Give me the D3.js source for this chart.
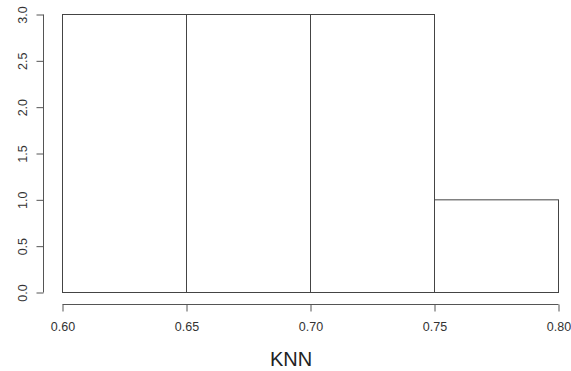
<!DOCTYPE html>
<html>
<head>
<meta charset="utf-8">
<script src="https://cdn.jsdelivr.net/npm/d3@7"></script>
<style>
  body { margin: 0; background: #fff; }
  text { font-family: "Liberation Sans", Arial, sans-serif; }
</style>
</head>
<body>
<div id="chart"></div>
<script>
// Histogram bins and counts
const binEdges = [0.60, 0.65, 0.70, 0.75, 0.80];
const counts = [3, 3, 3, 1];
const xTicks = [0.60, 0.65, 0.70, 0.75, 0.80];
const yTicks = [0, 0.5, 1, 1.5, 2, 2.5, 3];
const xTitle = "KNN";

const width = 571;
const height = 371;

const svg = d3.select("#chart")
  .append("svg")
  .attr("width", width)
  .attr("height", height);

const x = d3.scaleLinear().domain([0.60, 0.80]).range([62.5, 558.5]);
const y = d3.scaleLinear().domain([0, 3]).range([292.5, 14.5]);

// Bars
const bins = counts.map((c, i) => ({ x0: binEdges[i], x1: binEdges[i + 1], count: c }));
svg.selectAll(".bar")
  .data(bins)
  .enter()
  .append("rect")
  .attr("class", "bar")
  .attr("x", d => x(d.x0))
  .attr("y", d => y(d.count))
  .attr("width", d => x(d.x1) - x(d.x0))
  .attr("height", d => y(0) - y(d.count))
  .attr("fill", "none")
  .attr("stroke", "#444")
  .attr("stroke-width", 1);

// Y axis
const yAxis = svg.append("g")
  .attr("transform", "translate(43.5,0)")
  .call(d3.axisLeft(y).tickValues(yTicks).tickSize(7).tickFormat(d3.format(".1f")));
yAxis.select(".domain").attr("stroke", "#555").attr("d", `M0,${y(0)}V${y(3)}`);
yAxis.selectAll(".tick line").attr("stroke", "#555");
yAxis.selectAll(".tick text")
  .attr("x", null)
  .attr("dy", null)
  .attr("text-anchor", "middle")
  .attr("transform", "translate(-21,0) rotate(-90)")
  .attr("dominant-baseline", "central")
  .style("font-size", "12.5px")
  .attr("fill", "#333");

// X axis
const xAxis = svg.append("g")
  .attr("transform", "translate(0,304.5)")
  .call(d3.axisBottom(x).tickValues(xTicks).tickSize(7).tickFormat(d3.format(".2f")));
xAxis.select(".domain").attr("stroke", "#555").attr("d", `M${x(0.60)},0H${x(0.80)}`);
xAxis.selectAll(".tick line").attr("stroke", "#555");
xAxis.selectAll(".tick text")
  .attr("y", 18)
  .attr("dy", "0.71em")
  .style("font-size", "12.5px")
  .attr("fill", "#333");

// Title below
svg.append("text")
  .attr("x", 291)
  .attr("y", 366)
  .attr("text-anchor", "middle")
  .style("font-size", "20px")
  .attr("fill", "#222")
  .text(xTitle);
</script>
</body>
</html>
